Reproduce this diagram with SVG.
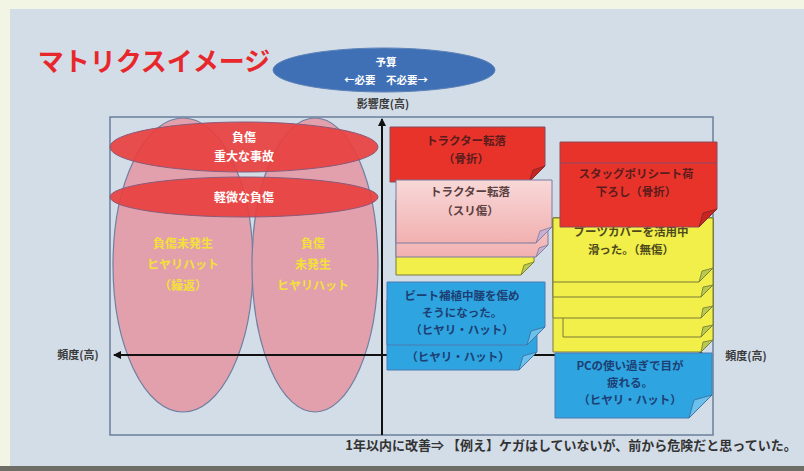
<svg xmlns="http://www.w3.org/2000/svg" width="804" height="471" viewBox="0 0 804 471">
<style>
.t{font-family:"Noto Sans CJK JP","Liberation Sans",sans-serif;font-weight:bold;text-anchor:middle}
.lbl{font-size:11px;fill:#3a3a3a}
.wt{font-size:12px;fill:#ffffff}
.yt{font-size:12px;fill:#f3e03a}
.rt{font-size:11.5px;fill:#5a1c1c}
.pt{font-size:11.5px;fill:#5a4040}
.ytx{font-size:11.5px;fill:#4d4a1c}
.bt{font-size:11.5px;fill:#1d3f73}
.red{fill:#e8332b;stroke:#8a4a5a;stroke-width:1}
.pink{fill:url(#pg);stroke:#7a7aa0;stroke-width:1}
.yel{fill:#f2ee4a;stroke:#7d7d3a;stroke-width:1}
.blu{fill:#2ea4e0;stroke:#4a7ab0;stroke-width:1}
.fy{fill:#b9c94e;stroke:#6e7a3a;stroke-width:0.8}
.fb{fill:#6cc0ec;stroke:#3a6a9a;stroke-width:0.8}
.fr{fill:#c82420;stroke:#7a2a2a;stroke-width:0.8}
.fp{fill:#c9b0d0;stroke:#7a7aa0;stroke-width:0.8}
</style>
<defs>
<linearGradient id="pg" x1="0" y1="0" x2="0" y2="1">
<stop offset="0" stop-color="#f8d8d8"/><stop offset="1" stop-color="#f2b0b0"/>
</linearGradient>
<marker id="ah" markerWidth="8" markerHeight="8" refX="7" refY="4" orient="auto" markerUnits="userSpaceOnUse">
<path d="M0,0 L8,4 L0,8 Z" fill="#111"/>
</marker>
</defs>
<rect x="0" y="0" width="804" height="471" fill="#f2f5e3"/>
<rect x="10" y="9" width="794" height="457" fill="#d3dde8"/>
<rect x="0" y="466" width="804" height="5" fill="#6e6e66"/>

<g id="title"><text class="t" x="154" y="71" style="font-size:26px;fill:#e8272c">マトリクスイメージ</text></g>

<g id="budget">
<ellipse cx="384" cy="70" rx="111" ry="22" fill="#3f70b5" stroke="#5a80b8"/>
<text class="t wt" x="386" y="66" style="font-size:10.5px">予算</text>
<text class="t wt" x="386" y="84" style="font-size:10.5px">←必要　不必要→</text>
</g>

<g id="frame"><rect x="110" y="117" width="603" height="318" fill="none" stroke="#6b7f99" stroke-width="1.5"/></g>

<g id="pinkLeft"><ellipse cx="183" cy="265" rx="70" ry="147" fill="#e2a0ac" stroke="#6f7fa0" stroke-width="1.2"/></g>
<g id="pinkRight"><ellipse cx="315" cy="265" rx="63" ry="147" fill="#e2a0ac" stroke="#6f7fa0" stroke-width="1.2"/></g>

<g id="connectors">
<line x1="382" y1="435" x2="382" y2="119" stroke="#111" stroke-width="2" marker-end="url(#ah)"/>
<line x1="712" y1="355" x2="114" y2="355" stroke="#111" stroke-width="2" marker-end="url(#ah)"/>
<line x1="560" y1="355" x2="706" y2="355" stroke="#111" stroke-width="2" marker-end="url(#ah)"/>
</g>

<g id="redBig">
<ellipse cx="244" cy="147" rx="134" ry="25" fill="#e8403e" fill-opacity="0.92" stroke="#8a5a7a"/>
<text class="t wt" x="244" y="142">負傷</text>
<text class="t wt" x="244" y="161">重大な事故</text>
</g>
<g id="redSmall">
<ellipse cx="244" cy="197" rx="134" ry="20" fill="#e8403e" fill-opacity="0.92" stroke="#8a5a7a"/>
<text class="t wt" x="244" y="202">軽微な負傷</text>
</g>

<g id="leftText">
<text class="t yt" x="183" y="248">負傷未発生</text>
<text class="t yt" x="183" y="269">ヒヤリハット</text>
<text class="t yt" x="183" y="290">（繰返）</text>
</g>
<g id="rightText">
<text class="t yt" x="313" y="248">負傷</text>
<text class="t yt" x="313" y="269">未発生</text>
<text class="t yt" x="313" y="290">ヒヤリハット</text>
</g>

<g id="axisLabels">
<text class="t lbl" x="383" y="108">影響度(高)</text>
<text class="t lbl" x="78" y="359">頻度(高)</text>
<text class="t lbl" x="746" y="360">頻度(高)</text>
</g>

<g id="note1">
<path class="red" d="M390,127 H545 V166 L529,182 H390 Z"/>
<path class="fr" d="M545,166 L529,182 L533,170 Z"/>
<text class="t rt" x="466" y="145">トラクター転落</text>
<text class="t rt" x="466" y="163">（骨折）</text>
</g>

<g id="note2">
<path class="yel" d="M396,200 H534 V262 L521,275 H396 Z"/>
<path class="fy" d="M534,262 L521,275 L524,265 Z"/>
<path class="pink" d="M396,200 H548 V245 L536,257 H396 Z"/>
<path class="fp" d="M548,245 L536,257 L539,248 Z"/>
<path class="pink" d="M396,180 H552 V227 L536,243 H396 Z"/>
<path class="fp" d="M552,227 L536,243 L540,231 Z"/>
<text class="t pt" x="470" y="196">トラクター転落</text>
<text class="t pt" x="470" y="215">（スリ傷）</text>
</g>

<g id="note3">
<path class="blu" d="M387,300 H537 V352 L519,370 H387 Z"/>
<path class="fb" d="M537,352 L519,370 L523,356 Z"/>
<path class="blu" d="M387,282 H545 V327 L527,345 H387 Z"/>
<path class="fb" d="M545,327 L527,345 L531,331 Z"/>
<text class="t bt" x="462" y="300">ビート補植中腰を傷め</text>
<text class="t bt" x="462" y="317">そうになった。</text>
<text class="t bt" x="462" y="334">（ヒヤリ・ハット）</text>
<text class="t bt" x="458" y="361">（ヒヤリ・ハット）</text>
</g>

<g id="note5">
<path class="yel" d="M553,218 H713 V340 L701,352 H553 Z"/>
<path class="fy" d="M713,340 L701,352 L703,342 Z"/>
<path class="yel" d="M563,218 H713 V325 L701,337 H563 Z"/>
<path class="fy" d="M713,325 L701,337 L703,327 Z"/>
<path class="yel" d="M553,218 H713 V306 L701,318 H553 Z"/>
<path class="fy" d="M713,306 L701,318 L703,308 Z"/>
<path class="yel" d="M553,218 H713 V285 L701,297 H553 Z"/>
<path class="fy" d="M713,285 L701,297 L703,287 Z"/>
<path class="yel" d="M553,218 H713 V268 L699,282 H553 Z"/>
<path class="fy" d="M713,268 L699,282 L702,271 Z"/>
<text class="t ytx" x="631" y="236">ブーツカバーを活用中</text>
<text class="t ytx" x="631" y="254">滑った。（無傷）</text>
</g>

<g id="note4">
<path class="red" d="M560,142 H717 V209 L699,227 H560 Z"/>
<path class="fr" d="M717,209 L699,227 L703,213 Z"/>
<line x1="560" y1="163" x2="717" y2="163" stroke="#8a4a6a" stroke-width="1.2"/>
<text class="t rt" x="636" y="178">スタッグポリシート荷</text>
<text class="t rt" x="636" y="196">下ろし（骨折）</text>
</g>

<g id="note6">
<path class="blu" d="M555,353 H712 V395 L689,418 H555 Z"/>
<path class="fb" d="M712,395 L689,418 L694,400 Z"/>
<text class="t bt" x="630" y="370">PCの使い過ぎで目が</text>
<text class="t bt" x="630" y="387">疲れる。</text>
<text class="t bt" x="630" y="404">（ヒヤリ・ハット）</text>
</g>

<g id="footer"><text class="t" x="571" y="450" style="font-size:13px;fill:#333">1年以内に改善⇒ 【例え】ケガはしていないが、前から危険だと思っていた。</text></g>
</svg>
